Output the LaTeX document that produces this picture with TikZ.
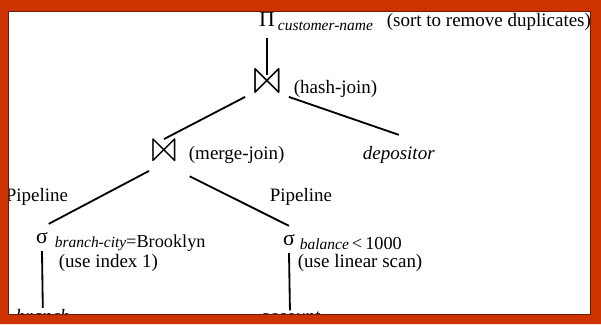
\documentclass[tikz,border=0pt]{standalone}
\usepackage{fontspec}
\usepackage{latexsym}
\usepackage{graphicx}
\setmainfont{Liberation Serif}
\definecolor{framered}{RGB}{204,51,0}
\newlength\pxu
\setlength\pxu{0.025cm}

\begin{document}
\begin{tikzpicture}[x=0.025cm, y=-0.025cm, line width=1.3pt,
    notetext/.style={inner sep=0pt, anchor=base west, font=\fontsize{13.5}{16}\selectfont},
    attrtext/.style={inner sep=0pt, anchor=base west, font=\fontsize{11}{13}\selectfont\itshape},
    relname/.style={inner sep=0pt, anchor=base west, font=\fontsize{13.5}{16}\selectfont\itshape},
    opnode/.style={inner sep=0pt, anchor=base, font=\fontsize{15.5}{18}\selectfont},
    joinsym/.style={inner sep=0pt, font=\fontsize{18}{18}\selectfont}]
    \useasboundingbox (0,0) rectangle (601,324);
    % projection on top
    \node[opnode, outer ysep=12\pxu] (proj) at (267,26) {Π};
    \node[attrtext] (projattr) at (277,30) {customer-name};
    \node[notetext] (sortnote) at (386,26) {(sort to remove duplicates)};
    % joins
    \node[joinsym, minimum width=42\pxu, minimum height=20\pxu] (hashjoin) at (267,86) {\scalebox{1.75}{$\Join$}};
    \node[notetext] (hashnote) at (293,93) {(hash-join)};
    \node[joinsym, minimum width=26\pxu, minimum height=30\pxu] (mergejoin) at (164,155) {\scalebox{1.6}{$\Join$}};
    \node[notetext] (mergenote) at (188,159) {(merge-join)};
    \node[relname, outer ysep=11\pxu] (depositor) at (362,159) {depositor};
    \node[notetext] (pipeleft) at (5,201) {Pipeline};
    \node[notetext] (piperight) at (269,201) {Pipeline};
    % selections
    \node[opnode, outer ysep=8\pxu] (selbranch) at (42,243) {σ};
    \node[attrtext] (selbranchcond) at (54,247) {branch-city{\upshape\fontsize{13}{15}\selectfont =Brooklyn}};
    \node[notetext] (indexnote) at (58,267) {(use index 1)};
    \node[opnode, outer ysep=8\pxu] (selbalance) at (289,245) {σ};
    \node[attrtext] (selbalancecond) at (299,249) {balance{\upshape\fontsize{13}{15}\selectfont\,<\,1000}};
    \node[notetext] (scannote) at (297,267) {(use linear scan)};
    \node[relname] (branch) at (15,322) {branch};
    \node[relname] (account) at (259,322) {account};
    % tree edges
    \draw (proj.south) -- (hashjoin.north);
    \draw (hashjoin.south west) -- (mergejoin.north);
    \draw (hashjoin.south east) -- (depositor.north);
    \draw (mergejoin.south west) -- (selbranch.north east);
    \draw[shorten <=12\pxu] (mergejoin.south east) -- (selbalance.north);
    \draw (selbranch.south) -- (branch.north);
    \draw (selbalance.south) -- (account.north);
    % frame
    \fill[framered, even odd rule] (0,0) rectangle (601,324) (8,11) rectangle (590,314);
    \draw[framered!55!black, line width=0.4pt] (8,11) rectangle (590,314);
\end{tikzpicture}
\end{document}
